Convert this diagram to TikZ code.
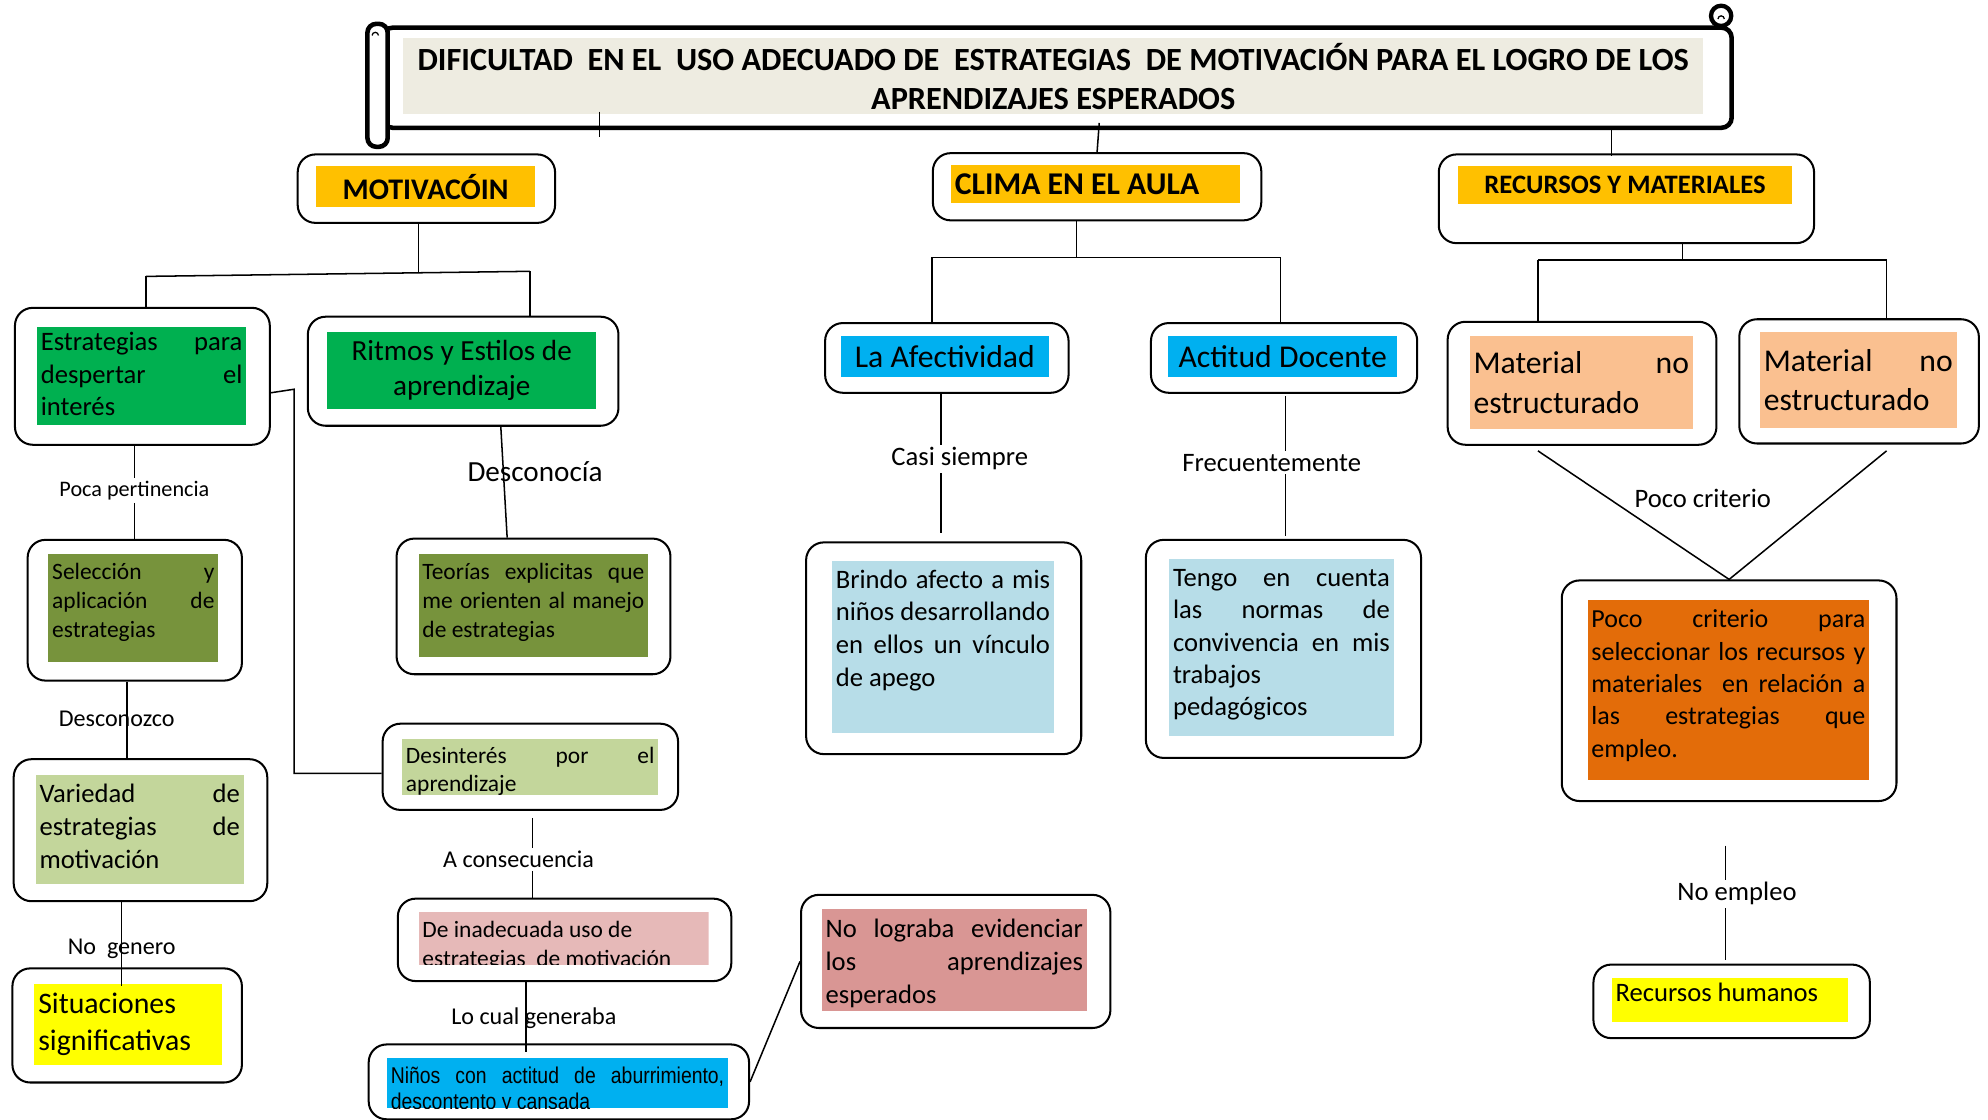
\documentclass[tikz,border=0pt]{standalone}
\usepackage{fontspec}
\setmainfont{Carlito}
\newfontfamily\estrecha{Liberation Sans}[FakeStretch=0.85]

\definecolor{naranja}{HTML}{FFC000}
\definecolor{verde}{HTML}{00B050}
\definecolor{oliva}{HTML}{77933C}
\definecolor{verdeclaro}{HTML}{C3D69B}
\definecolor{amarillo}{HTML}{FFFF00}
\definecolor{rosa}{HTML}{E6B9B8}
\definecolor{celeste}{HTML}{00B0F0}
\definecolor{rosaviejo}{HTML}{D99694}
\definecolor{azulclaro}{HTML}{B7DDE8}
\definecolor{durazno}{HTML}{FAC090}
\definecolor{naranjaosc}{HTML}{E36C09}
\definecolor{beige}{HTML}{EEECE1}

\newcommand{\fs}[2]{\fontsize{#1}{#2}\selectfont}
\newcommand{\jl}[1]{\makebox[\hsize][s]{#1}\par}

\tikzset{
  marco/.style={draw, rounded corners=14pt, line width=1.6pt, anchor=north west, inner sep=0pt},
  relleno/.style={anchor=north west, inner sep=3pt},
  etiqueta/.style={inner sep=2pt},
  linea/.style={line width=1.2pt}
}

\begin{document}
\begin{tikzpicture}[x=1pt,y=-1pt]
        \useasboundingbox (0,0) rectangle (1568,882.6);

        % titulo
        \node[draw, line width=3.6pt, rounded corners=8pt, anchor=north west, minimum width=1064pt, minimum height=79pt] (titF) at (300,20) {};
        \node[draw, line width=3.6pt, rounded corners=7pt, fill=white, anchor=north west, minimum width=16pt, minimum height=97pt] (rollo) at (288,17) {};
        \draw[line width=3.4pt, fill=white] (1357.5,12.5) circle[radius=8pt];
        \draw[line width=1pt] (1355,15) arc[start angle=180, end angle=0, radius=2.5pt];
        \draw[line width=1pt] (293.5,28) arc[start angle=180, end angle=0, radius=2.5pt];
        \node[relleno, fill=beige] (tit) at (318,30) {\parbox[c][54pt][c]{1019pt}{\centering\bfseries\fs{25.5}{31}DIFICULTAD~ EN EL~ USO ADECUADO DE~ ESTRATEGIAS~ DE MOTIVACIÓN PARA EL LOGRO DE LOS\\APRENDIZAJES ESPERADOS}};

        % marcos
        \node[marco, minimum width=203pt, minimum height=54pt] (motF) at (234,121) {};
        \node[marco, minimum width=259pt, minimum height=53pt] (cliF) at (735,120) {};
        \node[marco, minimum width=296pt, minimum height=70pt] (recF) at (1134,121) {};
        \node[marco, minimum width=201pt, minimum height=108pt] (estF) at (11,242) {};
        \node[marco, minimum width=245pt, minimum height=86pt] (ritF) at (242,249) {};
        \node[marco, minimum width=169pt, minimum height=111pt] (selF) at (21,425) {};
        \node[marco, minimum width=216pt, minimum height=107pt] (teoF) at (312,424) {};
        \node[marco, minimum width=200pt, minimum height=112pt] (varF) at (10,598) {};
        \node[marco, minimum width=181pt, minimum height=90pt] (sitF) at (9,763) {};
        \node[marco, minimum width=233pt, minimum height=68pt] (desF) at (301,570) {};
        \node[marco, minimum width=263pt, minimum height=65pt] (inaF) at (313,708) {};
        \node[marco, minimum width=300pt, minimum height=59pt] (ninF) at (290,823) {};
        \node[marco, minimum width=244pt, minimum height=105pt] (logF) at (631,705) {};
        \node[marco, minimum width=192pt, minimum height=55pt] (afeF) at (650,254) {};
        \node[marco, minimum width=210pt, minimum height=55pt] (actF) at (907,254) {};
        \node[marco, minimum width=217pt, minimum height=167pt] (briF) at (635,427) {};
        \node[marco, minimum width=217pt, minimum height=172pt] (tenF) at (903,425) {};
        \node[marco, minimum width=212pt, minimum height=97pt] (ma1F) at (1141,253) {};
        \node[marco, minimum width=189pt, minimum height=98pt] (ma2F) at (1371,251) {};
        \node[marco, minimum width=264pt, minimum height=174pt] (pocF) at (1231,457) {};
        \node[marco, minimum width=218pt, minimum height=58pt] (rhuF) at (1256,760) {};

        % rellenos con texto
        \node[relleno, fill=naranja] (mot) at (249,131) {\parbox[c][26pt][c]{167pt}{\centering\bfseries\fs{23.6}{26}MOTIVACÓIN}};
        \node[relleno, fill=naranja] (cli) at (750,130) {\parbox[c][24pt][c]{222pt}{\bfseries\fs{25}{26}CLIMA EN EL AULA}};
        \node[relleno, fill=naranja] (rec) at (1150,131) {\parbox[c][24pt][c]{257pt}{\centering\bfseries\fs{21}{24}RECURSOS Y MATERIALES}};
        \node[relleno, fill=verde] (est) at (29,258) {\parbox[c][71pt][t]{159pt}{\vspace*{1pt}\fs{21}{25.5}\jl{Estrategias para}\jl{despertar el}interés}};
        \node[relleno, fill=verde] (rit) at (258,262) {\parbox[c][54pt][c]{206pt}{\centering\fs{23}{28}Ritmos y Estilos de\\aprendizaje}};
        \node[relleno, fill=oliva] (sel) at (38,437) {\parbox[c][79pt][t]{128pt}{\vspace*{4pt}\fs{18.5}{23}\jl{Selección y}\jl{aplicación de}estrategias}};
        \node[relleno, fill=oliva] (teo) at (330,437) {\parbox[c][75pt][t]{175pt}{\vspace*{4pt}\fs{18.5}{23}\jl{Teorías explicitas que}\jl{me orienten al manejo}de estrategias}};
        \node[relleno, fill=verdeclaro] (var) at (28,611) {\parbox[c][80pt][t]{158pt}{\vspace*{4pt}\fs{21}{26}\jl{Variedad de}\jl{estrategias de}motivación}};
        \node[relleno, fill=amarillo] (sit) at (27,776) {\parbox[c][58pt][t]{142pt}{\vspace*{4pt}\fs{23.5}{29}Situaciones\\significativas}};
        \node[relleno, fill=verdeclaro] (des) at (317,583) {\parbox[c][38pt][t]{196pt}{\vspace*{3pt}\fs{18.5}{22}\jl{Desinterés por el}aprendizaje}};
        \begin{scope}
          \clip (330,719) rectangle (559,761);
          \node[relleno, fill=rosa] (ina) at (330,719) {\parbox[c][36pt][t]{223pt}{\vspace*{4pt}\fs{18.5}{23}De inadecuada uso de\\estrategias~ de motivación}};
        \end{scope}
        \begin{scope}
          \clip (305,834) rectangle (574,874);
          \node[relleno, fill=celeste] (nin) at (305,834) {\parbox[c][34pt][t]{263pt}{\vspace*{4pt}\estrecha\fs{18}{21}\jl{Niños con actitud de aburrimiento,}descontento y cansada}};
        \end{scope}
        \node[relleno, fill=rosaviejo] (log) at (648,717) {\parbox[c][74pt][t]{203pt}{\vspace*{5pt}\fs{21}{26}\jl{No lograba evidenciar}\jl{los aprendizajes}esperados}};
        \node[relleno, fill=celeste] (afe) at (663,265) {\parbox[c][26pt][c]{158pt}{\centering\fs{25}{28}La Afectividad}};
        \node[relleno, fill=celeste] (act) at (921,265) {\parbox[c][26pt][c]{175pt}{\centering\fs{25}{28}Actitud Docente}};
        \node[relleno, fill=azulclaro] (bri) at (656,442) {\parbox[c][130pt][t]{169pt}{\vspace*{4pt}\fs{21}{26}\jl{Brindo afecto a mis}\jl{niños desarrollando}\jl{en ellos un vínculo}de apego}};
        \node[relleno, fill=azulclaro] (ten) at (922,441) {\parbox[c][133pt][t]{171pt}{\vspace*{5pt}\fs{21}{25.5}\jl{Tengo en cuenta}\jl{las normas de}\jl{convivencia en mis}trabajos\\pedagógicos}};
        \node[relleno, fill=durazno] (ma1) at (1159,265) {\parbox[c][67pt][c]{170pt}{\fs{25}{31}\jl{Material no}estructurado}};
        \node[relleno, fill=durazno] (ma2) at (1388,262) {\parbox[c][69pt][c]{149pt}{\fs{25}{31}\jl{Material no}estructurado}};
        \node[relleno, fill=naranjaosc] (poc) at (1252,473) {\parbox[c][136pt][t]{216pt}{\vspace*{5pt}\fs{20.5}{25.5}\jl{Poco criterio para}\jl{seleccionar los recursos y}\jl{materiales~ en relación a}\jl{las estrategias que}empleo.}};
        \node[relleno, fill=amarillo] (rhu) at (1271,771) {\parbox[c][29pt][t]{180pt}{\vspace*{1pt}\fs{21}{25}Recursos humanos}};

        % etiquetas
        \node[etiqueta, font=\fs{17.5}{20}] (lpoca) at (106,387) {Poca pertinencia};
        \node[etiqueta, font=\fs{19}{22}] (ldesz) at (92,567) {Desconozco};
        \node[etiqueta, font=\fs{19}{22}] (lgen) at (96,748) {No~ genero};
        \node[etiqueta, font=\fs{23}{26}] (ldesc) at (422,372) {Desconocía};
        \node[etiqueta, font=\fs{19}{22}] (lcons) at (409,678) {A consecuencia};
        \node[etiqueta, font=\fs{19}{22}] (lcual) at (421,803) {Lo cual generaba};
        \node[etiqueta, font=\fs{21}{24}] (lcasi) at (757,362) {Casi siempre};
        \node[etiqueta, font=\fs{21}{24}] (lfrec) at (1003,365) {Frecuentemente};
        \node[etiqueta, font=\fs{21}{24}] (lcrit) at (1343,393) {Poco criterio};
        \node[etiqueta, font=\fs{21}{24}] (lemp) at (1370,705) {No empleo};

        % conectores
        \coordinate (t1a) at (473,88);
        \coordinate (t1b) at (473,108);
        \draw[linea] (t1a) -- (t1b);
        \coordinate (c0) at (867,97);
        \draw[linea] (c0) -- (cliF.north);
        \coordinate (c1) at (1271,101);
        \draw[linea] (c1) -- ([yshift=-2pt]recF.north -| c1);

        \coordinate (m0) at (330,215);
        \coordinate (m1) at (115,218);
        \coordinate (m2) at (418,214);
        \draw[linea] (motF.south -| m0) -- (m0);
        \draw[linea] (m1) -- (m2);
        \draw[linea] (m1) -- (estF.north -| m1);
        \draw[linea] (m2) -- (ritF.north -| m2);

        \coordinate (k1) at (232,307);
        \coordinate (k2) at (232,610);
        \draw[linea] ([yshift=-13pt]estF.east) -- (k1) -- (k2) -- (desF.west |- k2);

        \draw[linea] (estF.south -| lpoca) -- (lpoca.north);
        \draw[linea] (lpoca.south) -- (selF.north -| lpoca);
        \coordinate (d1) at (100,567);
        \draw[linea] (selF.south -| d1) -- (varF.north -| d1);
        \coordinate (g1) at (96,778);
        \draw[linea] (varF.south -| g1) -- (g1);

        \coordinate (r1) at (395,335);
        \coordinate (r2) at (400,425);
        \draw[linea] (ritF.south -| r1) -- (teoF.north -| r2);

        \coordinate (ac) at (420,645);
        \draw[linea] (ac) -- (lcons.north -| ac);
        \draw[linea] (lcons.south -| ac) -- (inaF.north -| ac);
        \coordinate (lc) at (415,830);
        \draw[linea] (inaF.south -| lc) -- (lc);
        \draw[linea] (ninF.east) -- (logF.west);

        \coordinate (c2) at (849,203);
        \coordinate (a1) at (735,203);
        \coordinate (a2) at (1010,203);
        \draw[linea] (cliF.south -| c2) -- (c2);
        \draw[linea] (a1) -- (a2);
        \draw[linea] (a1) -- (afeF.north -| a1);
        \draw[linea] (a2) -- (actF.north -| a2);

        \coordinate (cs) at (742,420);
        \draw[linea] (afeF.south -| cs) -- (lcasi.north -| cs);
        \draw[linea] (lcasi.south -| cs) -- (cs);
        \coordinate (fr) at (1014,423);
        \draw[linea] ([yshift=-2pt]actF.south -| fr) -- (lfrec.north -| fr);
        \draw[linea] (lfrec.south -| fr) -- (fr);

        \coordinate (r0) at (1327,205);
        \coordinate (b1) at (1213,205);
        \coordinate (b2) at (1488,205);
        \draw[linea] (recF.south -| r0) -- (r0);
        \draw[linea] (b1) -- (b2);
        \draw[linea] (b1) -- (ma1F.north -| b1);
        \draw[linea] (b2) -- (ma2F.north -| b2);
        \draw[linea] ([yshift=-4pt]ma1F.south -| b1) -- (pocF.north) -- ([yshift=-5pt]ma2F.south -| b2);

        \coordinate (ne1) at (1361,667);
        \coordinate (ne2) at (1361,757);
        \draw[linea] (ne1) -- (lemp.north -| ne1);
        \draw[linea] (lemp.south -| ne1) -- (ne2);

     \end{tikzpicture}
\end{document}
